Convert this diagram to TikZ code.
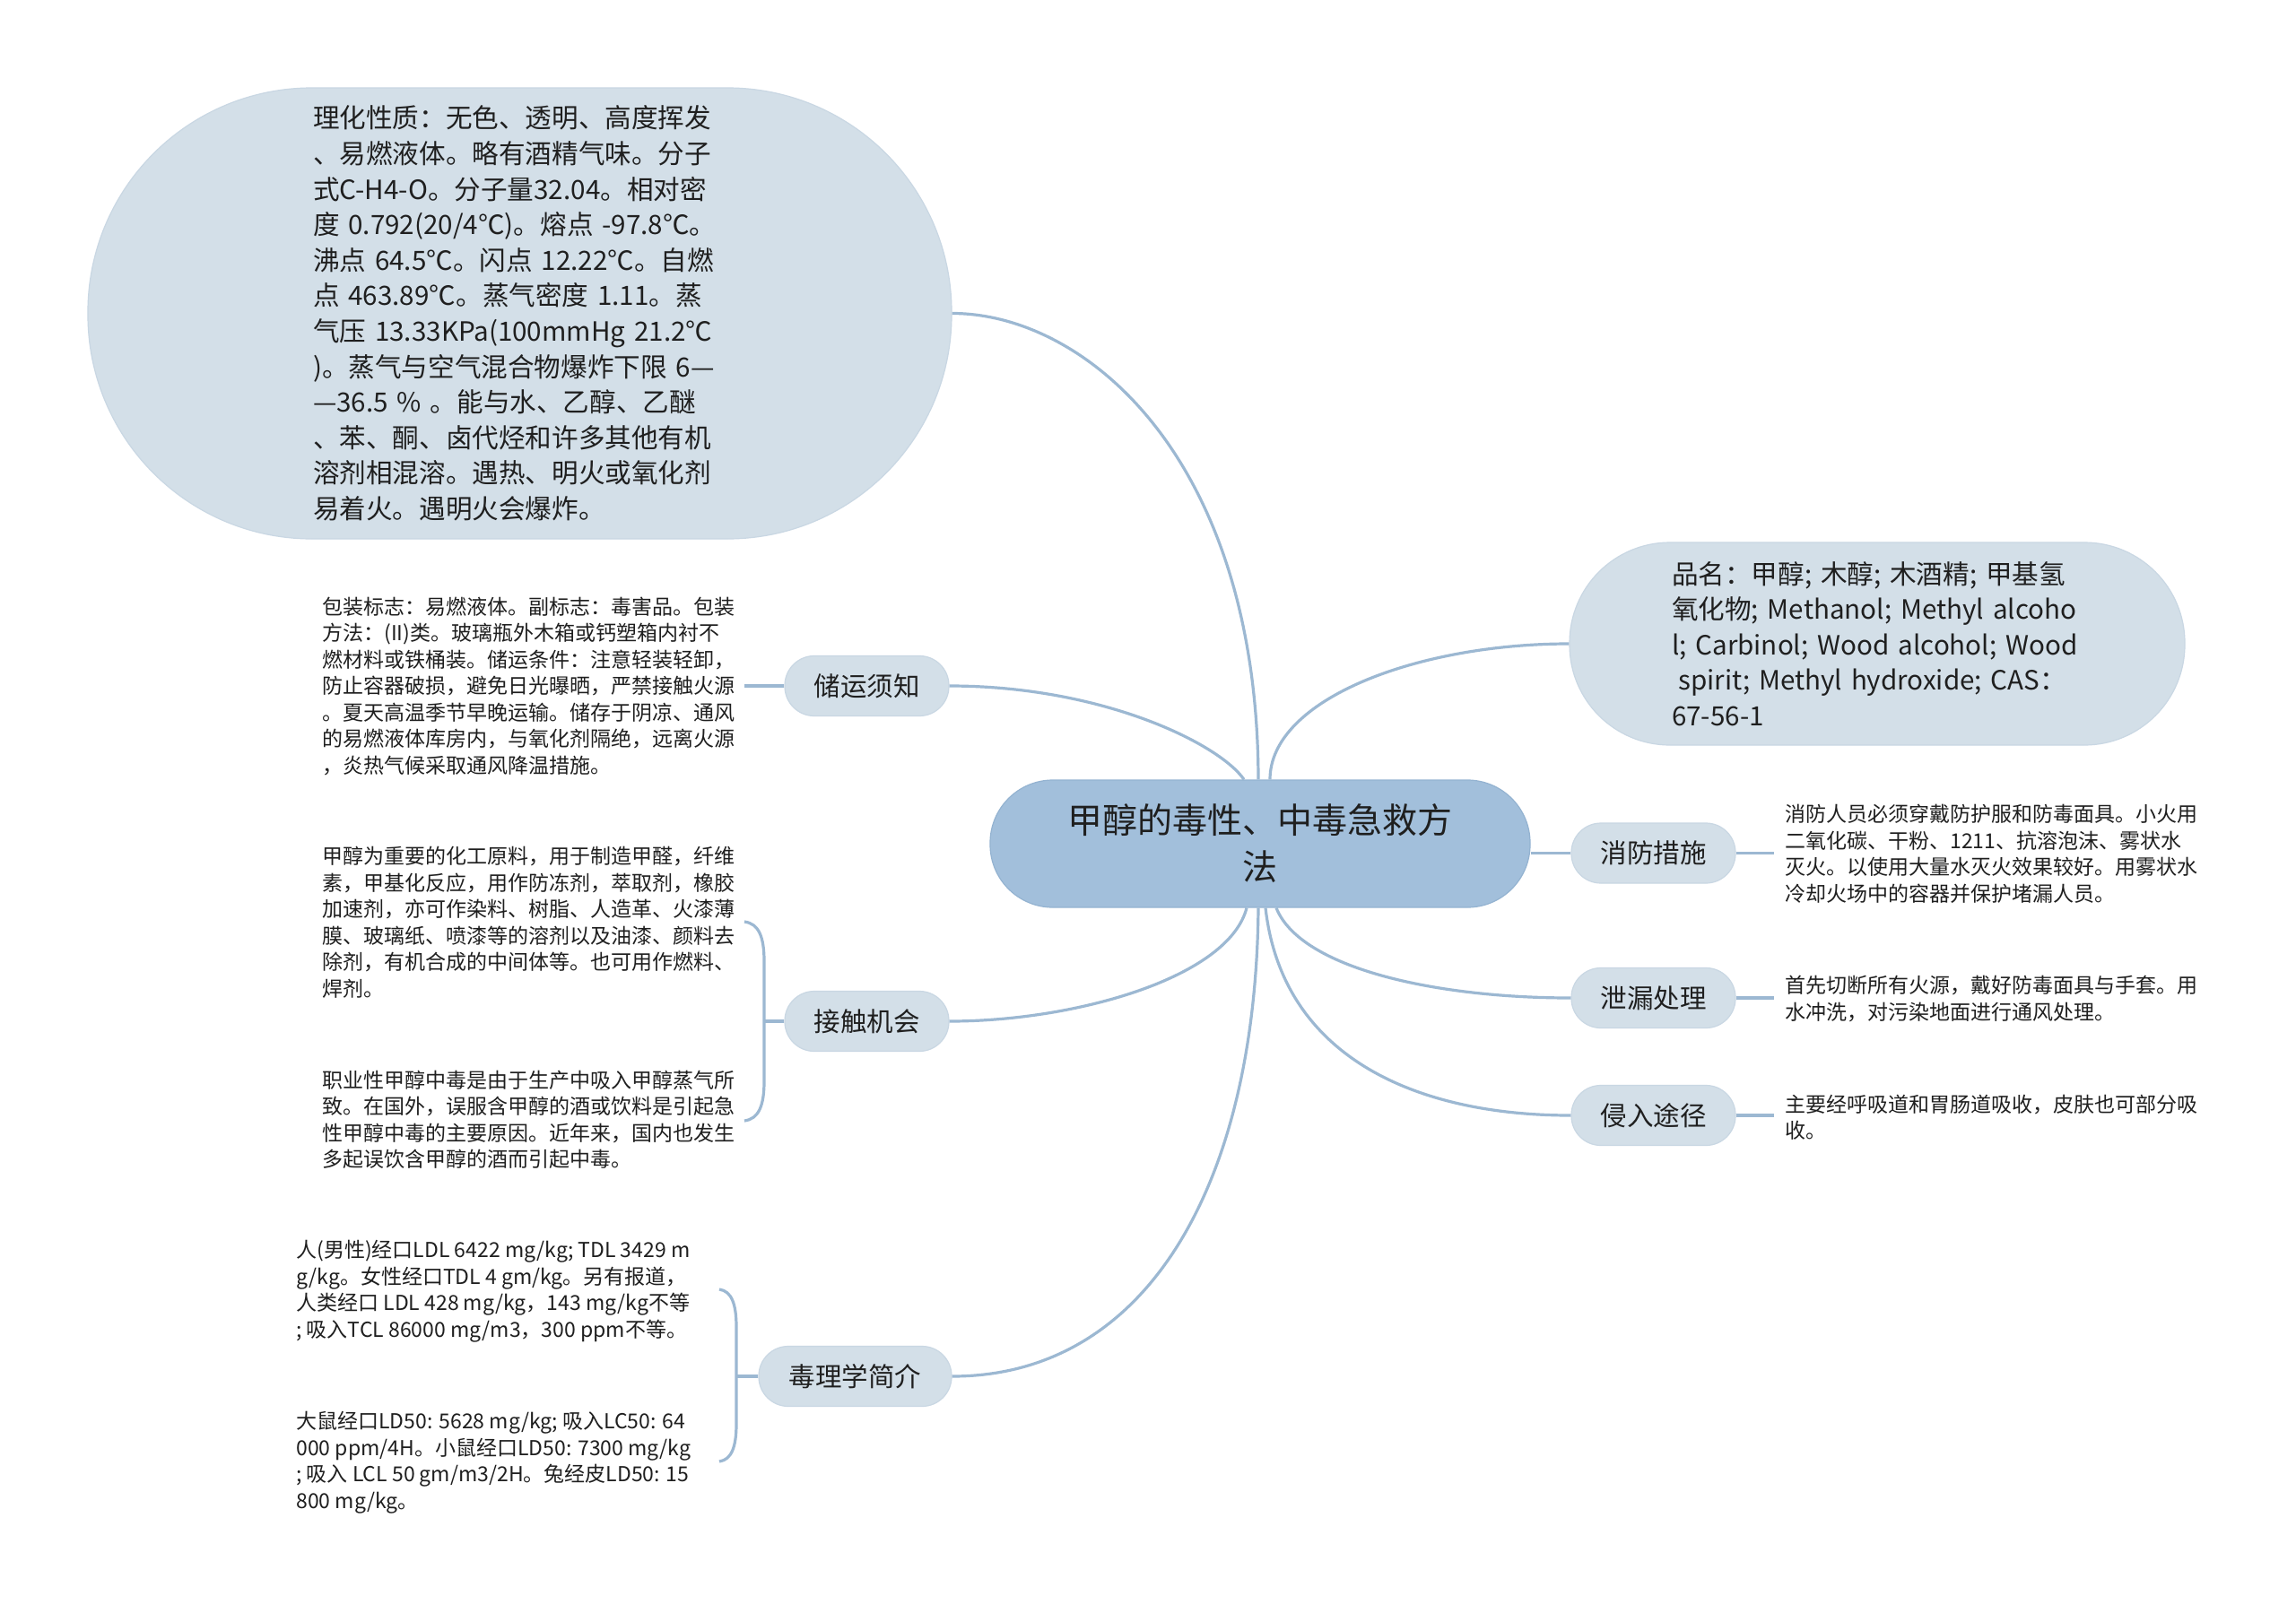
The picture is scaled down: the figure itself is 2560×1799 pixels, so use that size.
\documentclass[tikz,border=0pt]{standalone}
\usepackage{fontspec}
\newfontfamily\cjk{Noto Sans CJK SC}
\definecolor{nodefill}{HTML}{D3DFE8}
\definecolor{nodeedge}{HTML}{C9D7E3}
\definecolor{centerfill}{HTML}{A2BFDB}
\definecolor{centeredge}{HTML}{94B3D1}
\definecolor{linec}{HTML}{9CB8D2}
\definecolor{txt}{HTML}{1F1F1F}
\begin{document}
\begin{tikzpicture}[x=0.5pt,y=-0.5pt,
  conn/.style={draw=linec, line width=1.6pt},
  pill/.style={fill=nodefill, draw=nodeedge, line width=0.6pt, text=txt, inner sep=0pt},
  branchbox/.style={pill, font=\cjk\fontsize{14.75pt}{18pt}\selectfont,
     minimum height=33.5pt, minimum width=91.5pt, rounded corners=16.5pt},
  bigbox/.style={pill, align=left, font=\cjk\fontsize{14.8pt}{19.8pt}\selectfont},
  leaf/.style={font=\cjk\fontsize{11.5pt}{14.75pt}\selectfont, text=txt, align=left, inner sep=0pt, anchor=west}
]
\useasboundingbox (0,0) rectangle (2560,1799);
\fill[white] (0,0) rectangle (2560,1799);

% ---------- nodes ----------
\node[fill=centerfill, draw=centeredge, line width=0.6pt, text=txt, inner sep=0pt,
      minimum width=301pt, minimum height=71pt, rounded corners=35pt, align=center,
      font=\cjk\fontsize{19.5pt}{26pt}\selectfont] (c) at (1405,941)
  {甲醇的毒性、中毒急救方\\法};

\node[bigbox, text width=230.5pt, minimum width=481.5pt, minimum height=251.5pt, rounded corners=125pt] (lh) at (579.5,349.5)
  {理化性质：无色、透明、高度挥发\\
、易燃液体。略有酒精气味。分子\\
式C-H4-O。分子量32.04。相对密\\
度 0.792(20/4℃)。熔点 -97.8℃。\\
沸点 64.5℃。闪点 12.22℃。自燃\\
点 463.89℃。蒸气密度 1.11。蒸\\
气压 13.33KPa(100mmHg 21.2℃\\
)。蒸气与空气混合物爆炸下限 6—\\
—36.5 \% 。能与水、乙醇、乙醚\\
、苯、酮、卤代烃和许多其他有机\\
溶剂相混溶。遇热、明火或氧化剂\\
易着火。遇明火会爆炸。};

\node[bigbox, text width=229pt, minimum width=343pt, minimum height=113pt, rounded corners=56pt] (pm) at (2093,718)
  {品名：甲醇; 木醇; 木酒精; 甲基氢\\
氧化物; Methanol; Methyl alcoho\\
l; Carbinol; Wood alcohol; Wood\\
\hspace*{0.25em}spirit; Methyl hydroxide; CAS：\\
67-56-1};

\node[branchbox] (cy) at (966.5,765) {储运须知};
\node[branchbox] (jc) at (966.5,1139) {接触机会};
\node[branchbox, minimum width=107.5pt] (dl) at (953.5,1535) {毒理学简介};
\node[branchbox] (xf) at (1843.5,951.5) {消防措施};
\node[branchbox] (xl) at (1843.5,1113) {泄漏处理};
\node[branchbox] (ql) at (1843.5,1244) {侵入途径};

% ---------- leaf texts ----------
\node[leaf] (cyt) at (359,765) {包装标志：易燃液体。副标志：毒害品。包装\\
方法：(II)类。玻璃瓶外木箱或钙塑箱内衬不\\
燃材料或铁桶装。储运条件：注意轻装轻卸，\\
防止容器破损，避免日光曝晒，严禁接触火源\\
。夏天高温季节早晚运输。储存于阴凉、通风\\
的易燃液体库房内，与氧化剂隔绝，远离火源\\
，炎热气候采取通风降温措施。};

\node[leaf] (jt1) at (359,1028.5) {甲醇为重要的化工原料，用于制造甲醛，纤维\\
素，甲基化反应，用作防冻剂，萃取剂，橡胶\\
加速剂，亦可作染料、树脂、人造革、火漆薄\\
膜、玻璃纸、喷漆等的溶剂以及油漆、颜料去\\
除剂，有机合成的中间体等。也可用作燃料、\\
焊剂。};

\node[leaf] (jt2) at (359,1249) {职业性甲醇中毒是由于生产中吸入甲醇蒸气所\\
致。在国外，误服含甲醇的酒或饮料是引起急\\
性甲醇中毒的主要原因。近年来，国内也发生\\
多起误饮含甲醇的酒而引起中毒。};

\node[leaf] (dt1) at (330,1440) {人(男性)经口LDL 6422 mg/kg; TDL 3429 m\\
g/kg。女性经口TDL 4 gm/kg。另有报道，\\
人类经口 LDL 428 mg/kg，143 mg/kg不等\\
; 吸入TCL 86000 mg/m3，300 ppm不等。};

\node[leaf] (dt2) at (330,1631) {大鼠经口LD50: 5628 mg/kg; 吸入LC50: 64\\
000 ppm/4H。小鼠经口LD50: 7300 mg/kg\\
; 吸入 LCL 50 gm/m3/2H。兔经皮LD50: 15\\
800 mg/kg。};

\node[leaf] (xft) at (1990,952.5) {消防人员必须穿戴防护服和防毒面具。小火用\\
二氧化碳、干粉、1211、抗溶泡沫、雾状水\\
灭火。以使用大量水灭火效果较好。用雾状水\\
冷却火场中的容器并保护堵漏人员。};

\node[leaf] (xlt) at (1990,1114) {首先切断所有火源，戴好防毒面具与手套。用\\
水冲洗，对污染地面进行通风处理。};

\node[leaf] (qlt) at (1990,1246) {主要经呼吸道和胃肠道吸收，皮肤也可部分吸\\
收。};

% ---------- connectors from centre ----------
\draw[conn] (lh.east) .. controls (1210,349.5) and (1402,510) .. ([xshift=-1pt]c.north);
\draw[conn] (cy.east) .. controls (1230,765) and (1360,830) .. ([xshift=-9pt]c.north);
\draw[conn] ([xshift=5.5pt]c.north) .. controls (1416,780) and (1580,718) .. (pm.west);
\draw[conn] ([xshift=-7.5pt]c.south) .. controls (1370,1090) and (1200,1139) .. (jc.east);
\draw[conn] ([xshift=-1pt]c.south) .. controls (1400,1320) and (1280,1535) .. (dl.east);
\draw[conn] ([xshift=3pt]c.south) .. controls (1430,1180) and (1580,1244) .. (ql.west);
\draw[conn] ([xshift=9pt]c.south) .. controls (1450,1080) and (1600,1113) .. (xl.west);
\draw[conn] (c.east |- xf.west) -- (xf.west);

% ---------- connectors to leaf texts ----------
\draw[conn] (xf.east) -- (1978,951.5);
\draw[conn] (xl.east) -- (1978,1113);
\draw[conn] (ql.east) -- (1978,1244);
\draw[conn] (cy.west) -- (830,765);

\coordinate (jcj) at (852,1139);
\coordinate (jca) at (830,1028);
\coordinate (jcb) at (830,1250);
\draw[conn] (jc.west) -- (jcj);
\draw[conn] (jca) .. controls (846,1030) and (852,1045) .. (852,1072) -- (852,1206)
  .. controls (852,1233) and (846,1248) .. (jcb);

\coordinate (dlj) at (821,1535);
\coordinate (dla) at (802,1438);
\coordinate (dlb) at (802,1630);
\draw[conn] (dl.west) -- (dlj);
\draw[conn] (dla) .. controls (816,1440) and (821,1455) .. (821,1480) -- (821,1588)
  .. controls (821,1613) and (816,1628) .. (dlb);
\end{tikzpicture}
\end{document}
